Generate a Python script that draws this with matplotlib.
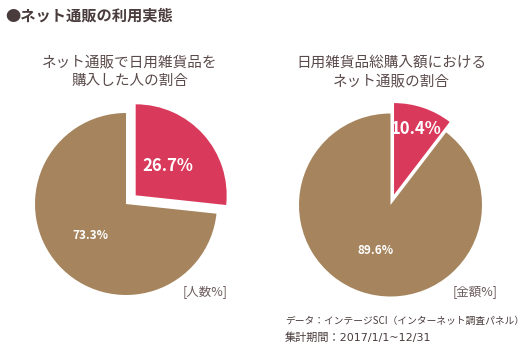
import numpy as np
import matplotlib
matplotlib.use('Agg')
import matplotlib.pyplot as plt

plt.rcParams['font.family'] = ['Noto Sans CJK JP', 'DejaVu Sans']

title = '●ネット通販の利用実態'
pie_titles = ['ネット通販で日用雑貨品を\n購入した人の割合',
              '日用雑貨品総購入額における\nネット通販の割合']
units = ['[人数%]', '[金額%]']
# [ネット通販, それ以外]
values_left = [26.7, 73.3]
values_right = [10.4, 89.6]
source = ['データ：インテージSCI（インターネット調査パネル）',
          '集計期間：2017/1/1~12/31']

red = '#d93a5b'
brown = '#a6855e'
txt_col = '#4a3c3c'

W, H = 529, 353
fig = plt.figure(figsize=(W / 100, H / 100), dpi=100)
ax = fig.add_axes([0, 0, 1, 1])

def draw_pie(vals, cx, cy, r, expl, red_dist, big_size):
    wedges, _ = ax.pie(vals, colors=[red, brown], startangle=90, counterclock=False,
                       center=(cx, cy), radius=r, explode=[expl, 0],
                       wedgeprops=dict(linewidth=0), frame=True)
    dists = [red_dist, 0.52]
    sizes = [big_size, 8.5]
    for w, v, d, s in zip(wedges, vals, dists, sizes):
        thm = np.deg2rad((w.theta1 + w.theta2) / 2)
        x0, y0 = w.center
        ax.text(x0 + d * r * np.cos(thm), y0 + d * r * np.sin(thm), f'{v:.1f}%',
                color='white', fontsize=s, fontweight='bold',
                ha='center', va='center')

draw_pie(values_left, 126, H - 204, 91, 13, 0.48, 12)
draw_pie(values_right, 390.5, H - 205, 91.5, 11, 0.76, 12)
ax.set_xlim(0, W)
ax.set_ylim(0, H)
ax.set_aspect('equal')
ax.axis('off')

fig.text(5 / W, 1 - 16 / H, title, fontsize=11, fontweight='bold', color=txt_col,
         ha='left', va='center')
for t, x in zip(pie_titles, [130, 391]):
    fig.text(x / W, 1 - 72 / H, t, fontsize=10.5, color='#5a4a4a', ha='center',
             va='center', linespacing=1.45)
for u, x in zip(units, [205, 475]):
    fig.text(x / W, 1 - 292 / H, u, fontsize=9, color='#6b5b5b', ha='center', va='center')
fig.text(285 / W, 1 - 321 / H, source[0], fontsize=7, color=txt_col, ha='left',
         va='center')
fig.text(285 / W, 1 - 338 / H, source[1], fontsize=8, color=txt_col, ha='left',
         va='center', family=['DejaVu Sans', 'Noto Sans CJK JP'])

fig.savefig('out.png', dpi=100)
